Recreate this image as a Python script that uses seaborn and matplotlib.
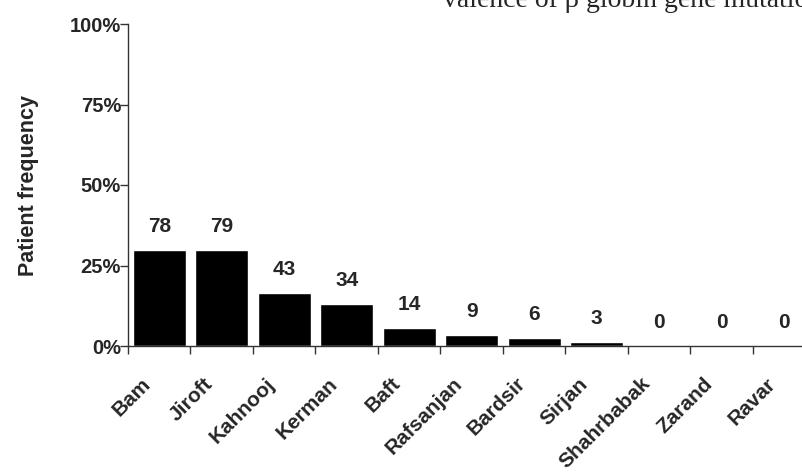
import numpy as np
import pandas as pd
import seaborn as sns
import matplotlib.pyplot as plt
import matplotlib.transforms as mtransforms

# data
regions = ['Bam', 'Jiroft', 'Kahnooj', 'Kerman', 'Baft', 'Rafsanjan',
           'Bardsir', 'Sirjan', 'Shahrbabak', 'Zarand', 'Ravar']
patients = [78, 79, 43, 34, 14, 9, 6, 3, 0, 0, 0]
percent = [29.8, 29.8, 16.4, 13.1, 5.5, 3.5, 2.4, 1.2, 0, 0, 0]

df = pd.DataFrame({'region': regions, 'pct': percent, 'n': patients})

sns.set_style('ticks')
plt.rcParams['font.family'] = ['Liberation Sans', 'DejaVu Sans']
plt.rcParams['font.weight'] = 'bold'

fig = plt.figure(figsize=(8.03, 4.72), dpi=100)
ax = fig.add_axes([128 / 803, 126 / 472, 687.5 / 803, 322 / 472])

sns.barplot(data=df, x='region', y='pct', color='black', width=0.85,
            saturation=1, ax=ax)

for i, (p, n) in enumerate(zip(percent, patients)):
    ax.annotate(str(n), (i, p), xytext=(0, 10), textcoords='offset points',
                ha='center', va='bottom', fontsize=15, fontweight='bold')

ax.set_xlim(-0.5, 10.5)
ax.set_ylim(0, 100)
ax.set_yticks([0, 25, 50, 75, 100])
ax.set_yticklabels(['0%', '25%', '50%', '75%', '100%'], fontsize=14.5,
                   fontweight='bold')
ax.set_xticks(range(len(regions)))
ax.set_xticklabels(regions, rotation=45, ha='right', va='center',
                   rotation_mode='anchor', fontsize=15, fontweight='bold')
ax.tick_params(axis='x', which='major', length=0, pad=25)
ax.set_xticks(np.arange(-0.5, 11, 1), minor=True)
ax.tick_params(axis='x', which='minor', length=6, width=1, color='#333333')
ax.tick_params(axis='y', length=6, width=1, color='#333333', pad=-1)

# nudge the rotated labels left, like the original
shift = mtransforms.ScaledTranslation(-12 / 100, 0, fig.dpi_scale_trans)
for lbl in ax.get_xticklabels():
    lbl.set_transform(lbl.get_transform() + shift)

for s in ['top', 'right']:
    ax.spines[s].set_visible(False)
for s in ['left', 'bottom']:
    ax.spines[s].set_color('#333333')
    ax.spines[s].set_linewidth(1)
ax.spines['left'].set_zorder(0)

ax.set_xlabel('')
ax.set_ylabel('Patient frequency', fontsize=15.5, fontweight='bold', labelpad=22)

fig.text(443 / 803, 1 - 7 / 472, 'valence of \u03b2 globin gene mutations',
         family='Liberation Serif', fontweight='normal', fontsize=20,
         ha='left', va='baseline')

fig.savefig('out.png', dpi=100)
